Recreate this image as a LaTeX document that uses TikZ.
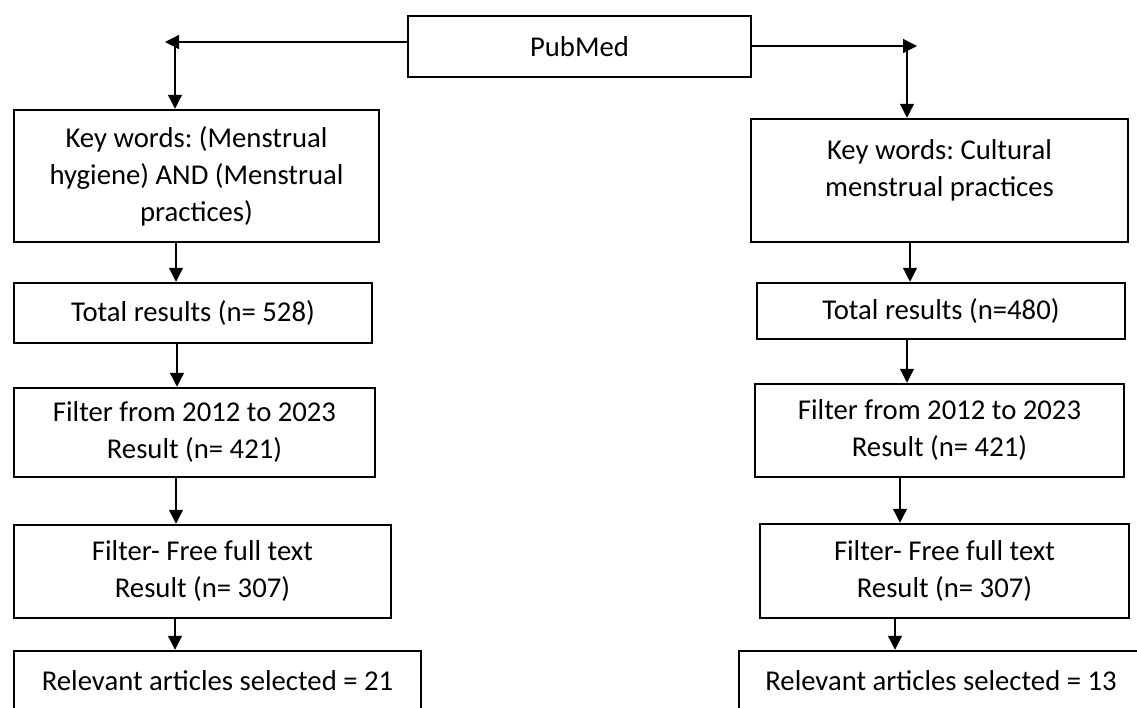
\documentclass[tikz,border=0pt]{standalone}
\usepackage{fontspec}
\setmainfont{Carlito}
\frenchspacing
\usetikzlibrary{arrows.meta}

\begin{document}
\begin{tikzpicture}[x=1pt, y=-1pt,
  box/.style = {draw, line width=2.5pt, align=center, inner sep=2pt,
                font=\fontsize{28.7}{37}\selectfont},
  link/.style = {line width=1.3pt, -{Triangle[length=14pt, width=14pt]}},
  ]
  \useasboundingbox (0,0) rectangle (1137,707);
  \node[box, minimum width=343pt, minimum height=61pt] (pubmed) at (579.5,46.5) {PubMed};

  \node[box, minimum width=365pt, minimum height=132pt] (kwL) at (196.5,176)
    {Key words: (Menstrual\\hygiene) AND (Menstrual\\practices)};
  \node[box, minimum width=358pt, minimum height=60pt] (totL) at (193,313)
    {Total results (n= 528)};
  \node[box, minimum width=361pt, minimum height=89pt] (yrsL) at (194.5,432.5)
    {Filter from 2012 to 2023\\Result (n= 421)};
  \node[box, minimum width=377pt, minimum height=93pt] (freeL) at (202.5,571.5)
    {Filter- Free full text\\Result (n= 307)};
  \node[box, minimum width=407pt, minimum height=60pt] (relL) at (217.5,681)
    {Relevant articles selected = 21};

  \node[box, minimum width=377pt, minimum height=123pt, text depth=25pt] (kwR) at (939.5,180.5)
    {Key words: Cultural\\menstrual practices};
  \node[box, minimum width=368pt, minimum height=56pt] (totR) at (941,311)
    {Total results (n=480)};
  \node[box, minimum width=369pt, minimum height=93pt] (yrsR) at (939.5,430.5)
    {Filter from 2012 to 2023\\Result (n= 421)};
  \node[box, minimum width=369pt, minimum height=94pt] (freeR) at (944.5,571)
    {Filter- Free full text\\Result (n= 307)};
  \node[box, minimum width=404pt, minimum height=60pt] (relR) at (941,681)
    {Relevant articles selected = 13};

  \coordinate (tipL) at (165,42);
  \coordinate (turnL) at (175,42);
  \coordinate (tipR) at (917,46);
  \coordinate (turnR) at (907,46);

  \draw[link] (pubmed.west |- tipL) -- (tipL);
  \draw[link] (turnL) -- (turnL |- kwL.north);
  \draw[link] (pubmed.east |- tipR) -- (tipR);
  \draw[link] (turnR) -- (turnR |- kwR.north);

  \draw[link] ([xshift=-20.5pt]kwL.south) -- ([xshift=-17pt]totL.north);
  \draw[link] ([xshift=-16pt]totL.south) -- ([xshift=-17.5pt]yrsL.north);
  \draw[link] ([xshift=-18.5pt]yrsL.south) -- ([xshift=-26.5pt]freeL.north);
  \draw[link] ([xshift=-27.5pt]freeL.south) -- ([xshift=-42.5pt]relL.north);

  \draw[link] ([xshift=-29.5pt]kwR.south) -- ([xshift=-31pt]totR.north);
  \draw[link] ([xshift=-34pt]totR.south) -- ([xshift=-32.5pt]yrsR.north);
  \draw[link] ([xshift=-39.5pt]yrsR.south) -- ([xshift=-44.5pt]freeR.north);
  \draw[link] ([xshift=-49.5pt]freeR.south) -- ([xshift=-46pt]relR.north);
\end{tikzpicture}
\end{document}
